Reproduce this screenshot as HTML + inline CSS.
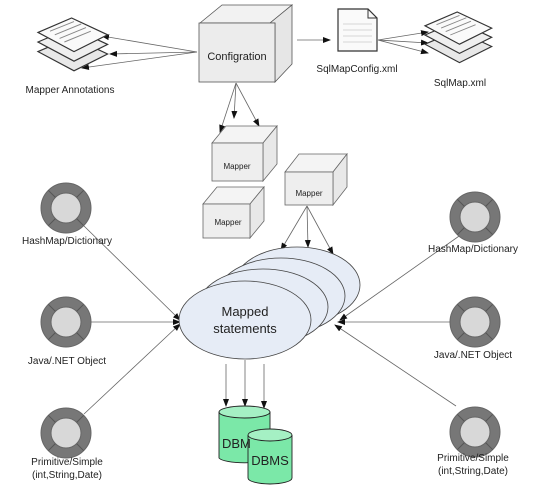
<!DOCTYPE html><html><head><style>body{margin:0;background:#fff}svg{display:block}text{font-family:"Liberation Sans",sans-serif;fill:#222}</style></head><body>
<svg width="540" height="496" viewBox="0 0 540 496">
<defs>
<marker id="a" markerWidth="8" markerHeight="8" refX="7" refY="4" orient="auto" markerUnits="userSpaceOnUse"><path d="M0,1 L8,4 L0,7z" fill="#111"/></marker>
<g id="ring"><circle r="25" fill="#777" stroke="#666"/><circle r="15" fill="#d8d8d8" stroke="#666"/><path d="M10.6,10.6L17.7,17.7M-10.6,10.6L-17.7,17.7M10.6,-10.6L17.7,-17.7M-10.6,-10.6L-17.7,-17.7" stroke="#555"/></g>
<g id="stack"><path d="M0,28 L28,16 L58,30 L30,44z" fill="#e8e8e8" stroke="#333"/><path d="M0,20 L28,8 L58,22 L30,36z" fill="#efefef" stroke="#333"/><path d="M0,12 L28,0 L58,14 L30,28z" fill="#fafafa" stroke="#333"/><path d="M10,11L30,3M14,14L36,5M18,17L40,8M22,20L44,11" stroke="#888" stroke-width=".8"/></g>
</defs>
<g stroke="#666" stroke-width=".8" fill="none">
<line x1="197" y1="52" x2="102" y2="36" marker-end="url(#a)"/>
<line x1="197" y1="52" x2="110" y2="54" marker-end="url(#a)"/>
<line x1="197" y1="52" x2="82" y2="68" marker-end="url(#a)"/>
<line x1="297" y1="40" x2="330" y2="40" marker-end="url(#a)"/>
<line x1="378" y1="40" x2="428" y2="32" marker-end="url(#a)"/>
<line x1="378" y1="40" x2="428" y2="43" marker-end="url(#a)"/>
<line x1="378" y1="40" x2="428" y2="53" marker-end="url(#a)"/>
<line x1="236" y1="83" x2="220" y2="132" marker-end="url(#a)"/>
<line x1="236" y1="83" x2="234" y2="118" marker-end="url(#a)"/>
<line x1="236" y1="83" x2="259" y2="126" marker-end="url(#a)"/>
<line x1="307" y1="206" x2="281" y2="250" marker-end="url(#a)"/>
<line x1="307" y1="206" x2="308" y2="247" marker-end="url(#a)"/>
<line x1="307" y1="206" x2="333" y2="254" marker-end="url(#a)"/>
<line x1="84" y1="226" x2="180" y2="320" marker-end="url(#a)"/>
<line x1="91" y1="322" x2="180" y2="322" marker-end="url(#a)"/>
<line x1="84" y1="414" x2="180" y2="324" marker-end="url(#a)"/>
<line x1="462" y1="234" x2="340" y2="320" marker-end="url(#a)"/>
<line x1="450" y1="322" x2="338" y2="322" marker-end="url(#a)"/>
<line x1="456" y1="406" x2="335" y2="325" marker-end="url(#a)"/>
<line x1="226" y1="364" x2="226" y2="406" marker-end="url(#a)"/>
<line x1="245" y1="360" x2="245" y2="406" marker-end="url(#a)"/>
<line x1="264" y1="364" x2="264" y2="408" marker-end="url(#a)"/>
</g>
<g stroke="#555" stroke-width=".8">
<path d="M200,23 L222,5 L292,5 L270,23z" fill="#f2f2f2"/>
<path d="M270,23 L292,5 L292,64 L275,82 L275,23z" fill="#e6e6e6"/>
<rect x="199" y="23" width="76" height="59" fill="#ececec"/>
</g>
<text x="237" y="60" font-size="11" text-anchor="middle" fill="#2d4a2d">Configration</text>
<path d="M338,9 L368,9 L377,18 L377,51 L338,51z" fill="#fafafa" stroke="#333" stroke-width="1.2"/>
<path d="M368,9 L368,18 L377,18" fill="none" stroke="#333"/>
<path d="M343,24h29M343,30h29M343,36h29M343,42h29" stroke="#ccc" stroke-width=".8"/>
<text x="357" y="72" font-size="10" text-anchor="middle">SqlMapConfig.xml</text>
<use href="#stack" transform="translate(425,12) scale(1.15)"/>
<text x="460" y="86" font-size="10" text-anchor="middle">SqlMap.xml</text>
<use href="#stack" transform="translate(38,18) scale(1.2)"/>
<text x="70" y="93" font-size="10" text-anchor="middle">Mapper Annotations</text>
<g stroke="#666" stroke-width=".8">
<path d="M212,143 L226,126 L277,126 L263,143z" fill="#f4f4f4"/><path d="M263,143 L277,126 L277,164 L263,181z" fill="#e8e8e8"/><rect x="212" y="143" width="51" height="38" fill="#eeeeee"/>
<path d="M203,204 L217,187 L264,187 L250,204z" fill="#f4f4f4"/><path d="M250,204 L264,187 L264,221 L250,238z" fill="#e8e8e8"/><rect x="203" y="204" width="47" height="34" fill="#eeeeee"/>
<path d="M285,172 L299,154 L347,154 L333,172z" fill="#f4f4f4"/><path d="M333,172 L347,154 L347,187 L333,205z" fill="#e8e8e8"/><rect x="285" y="172" width="48" height="33" fill="#eeeeee"/>
</g>
<text x="237" y="169" font-size="8" text-anchor="middle">Mapper</text>
<text x="228" y="225" font-size="8" text-anchor="middle">Mapper</text>
<text x="309" y="196" font-size="8" text-anchor="middle">Mapper</text>
<g stroke="#444" stroke-width=".8" fill="#e6ecf6">
<ellipse cx="297" cy="285" rx="63" ry="38"/>
<ellipse cx="281" cy="296" rx="64" ry="38"/>
<ellipse cx="263" cy="307" rx="65" ry="38"/>
<ellipse cx="245" cy="320" rx="66" ry="39"/>
</g>
<text x="245" y="316" font-size="13" text-anchor="middle">Mapped</text>
<text x="245" y="333" font-size="13" text-anchor="middle">statements</text>
<use href="#ring" x="66" y="208"/><use href="#ring" x="66" y="322"/><use href="#ring" x="66" y="433"/>
<use href="#ring" x="475" y="217"/><use href="#ring" x="475" y="322"/><use href="#ring" x="475" y="432"/>
<g font-size="10" text-anchor="middle">
<text x="67" y="244">HashMap/Dictionary</text>
<text x="67" y="364">Java/.NET Object</text>
<text x="67" y="465">Primitive/Simple</text><text x="67" y="478">(int,String,Date)</text>
<text x="473" y="252">HashMap/Dictionary</text>
<text x="473" y="358">Java/.NET Object</text>
<text x="473" y="461">Primitive/Simple</text><text x="473" y="474">(int,String,Date)</text>
</g>
<g stroke="#222" stroke-width=".9" fill="#7be8a8">
<path d="M219,412 L219,458 A26,6 0 0 0 270,458 L270,412"/><ellipse cx="244.5" cy="412" rx="25.5" ry="6" fill="#a5f0c4"/>
<path d="M248,435 L248,478 A22,6 0 0 0 292,478 L292,435"/><ellipse cx="270" cy="435" rx="22" ry="6" fill="#a5f0c4"/>
</g>
<text x="222" y="448" font-size="13" fill="#1a3a2a">DBM</text>
<text x="270" y="465" font-size="13" text-anchor="middle" fill="#1a3a2a">DBMS</text>
</svg></body></html>
